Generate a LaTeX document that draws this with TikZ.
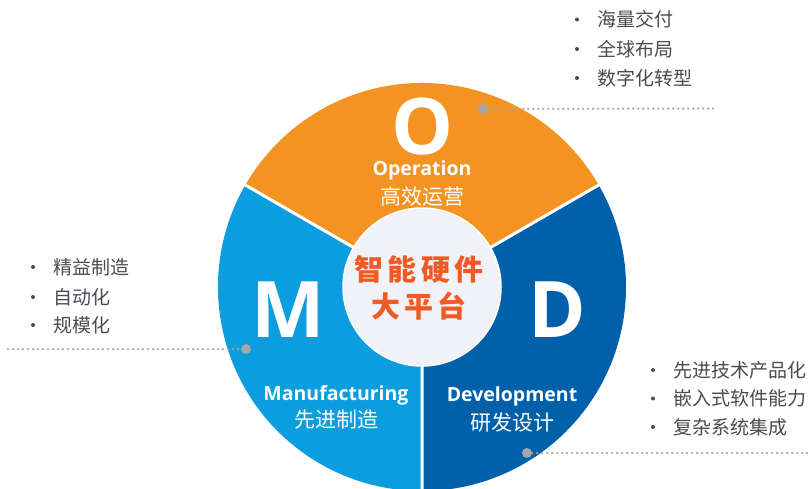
\documentclass[tikz,border=0pt]{standalone}
\usepackage{fontspec}
\setmainfont{Open Sans}
\newfontfamily\cjk{Noto Sans CJK SC}
\definecolor{opOrange}{HTML}{F39322}
\definecolor{mfBlue}{HTML}{0B9DDD}
\definecolor{devBlue}{HTML}{0061AA}
\definecolor{hubGrey}{HTML}{F1F2F7}
\definecolor{hubRed}{HTML}{F15A24}
\definecolor{listGrey}{HTML}{4A4A52}
\definecolor{dotGrey}{HTML}{A6A6A6}
\begin{document}
\begin{tikzpicture}[x=1pt,y=1pt,
		letter/.style={text=white,font=\fontsize{78}{78}\selectfont\bfseries,inner sep=0},
		title/.style={text=white,font=\fontsize{19.5}{20}\selectfont\bfseries,inner sep=0,anchor=base},
		subtitle/.style={text=white,font=\cjk\fontsize{21}{22}\selectfont,inner sep=0},
		item/.style={anchor=west,text=listGrey,font=\cjk\fontsize{19}{20}\selectfont,inner sep=0},
		leader/.style={dotGrey,line width=2.5pt,line cap=round,dash pattern=on 0pt off 5pt},
		knob/.style={circle,fill=dotGrey,inner sep=0,minimum size=10pt}]
	\useasboundingbox (0,0) rectangle (812,-488);
	\clip (0,0) rectangle (812,-488);
	\coordinate (c) at (422,-287);
	% the three sectors
	\fill[opOrange] (c) -- ++(30:204) arc[start angle=30,end angle=150,radius=204] -- cycle;
	\fill[mfBlue] (c) -- ++(150:204) arc[start angle=150,end angle=270,radius=204] -- cycle;
	\fill[devBlue] (c) -- ++(270:204) arc[start angle=270,end angle=390,radius=204] -- cycle;
	\draw[white,line width=3pt] (c) -- ++(30:206) (c) -- ++(150:206) (c) -- ++(270:206);
	% hub
	\node[circle,fill=hubGrey,draw=white,line width=1.5pt,minimum size=158pt,inner sep=0] (hub) at (c) {};
	\node[text=hubRed,font=\cjk\bfseries\fontsize{29}{36}\selectfont\addfontfeature{LetterSpace=14},align=center,inner sep=0] (hubtxt) at (419,-288) {智能硬件\\[1pt]大平台};
	% letters and titles
	\node[letter] (O) at (423,-126.5) {O};
	\node[letter] (M) at (288,-310) {M};
	\node[letter] (D) at (557,-310) {D};
	\node[title] (op) at (422,-175.5) {Operation};
	\node[subtitle] (opcn) at (422,-197) {高效运营};
	\node[title] (mf) at (336,-400) {Manufacturing};
	\node[subtitle] (mfcn) at (336,-420) {先进制造};
	\node[title] (dev) at (512,-401.5) {Development};
	\node[subtitle] (devcn) at (512,-423) {研发设计};
	% leaders
	\node[knob] (opk) at (483,-109) {};
	\coordinate (ope) at (714,-108.5);
	\draw[leader] (opk) -- (ope);
	\node[knob] (mfk) at (246,-349) {};
	\coordinate (mfe) at (8,-349);
	\draw[leader] (mfe) -- (mfk);
	\node[knob] (devk) at (527,-453) {};
	\coordinate (deve) at (812,-453);
	\draw[leader] (devk) -- (deve);
	% lists
	\node[item] (o1) at (597,-19.5) {海量交付};
	\node[item] (o2) at (597,-49) {全球布局};
	\node[item] (o3) at (597,-78) {数字化转型};
	\node[item] (m1) at (53,-267) {精益制造};
	\node[item] (m2) at (53,-297) {自动化};
	\node[item] (m3) at (53,-325) {规模化};
	\node[item] (d1) at (673,-370) {先进技术产品化};
	\node[item] (d2) at (673,-398.5) {嵌入式软件能力};
	\node[item] (d3) at (673,-427) {复杂系统集成};
	\foreach \n in {o1,o2,o3,m1,m2,m3,d1,d2,d3}
		\fill[listGrey] ([xshift=-20pt]\n.west) circle (2);
\end{tikzpicture}
\end{document}
